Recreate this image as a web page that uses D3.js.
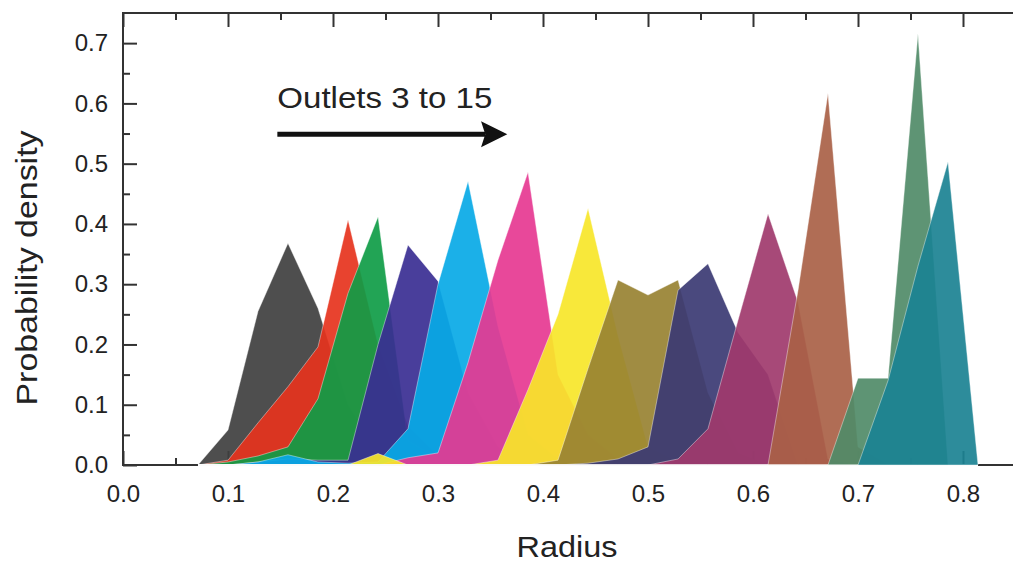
<!DOCTYPE html>
<html>
<head>
<meta charset="utf-8">
<script src="https://cdn.jsdelivr.net/npm/d3@7"></script>
<style>
  body { margin: 0; background: #fff; }
  svg { display: block; font-family: "Liberation Sans", Arial, sans-serif; }
</style>
</head>
<body>
<div id="chart"></div>
<script>
// bin centres (radius) shared by all outlets
const radius = [0.0714, 0.1, 0.1286, 0.1571, 0.1857, 0.2143, 0.2429, 0.2714, 0.3,
  0.3286, 0.3571, 0.3857, 0.4143, 0.4429, 0.4714, 0.5, 0.5286, 0.5571, 0.5857,
  0.6143, 0.6429, 0.6714, 0.7, 0.7286, 0.7571, 0.7857, 0.8143];

// probability density per outlet
const outlet3  = [0, 0.058, 0.255, 0.368, 0.26, 0.10, 0.02, 0.005, 0, 0, 0, 0, 0, 0, 0, 0, 0, 0, 0, 0, 0, 0, 0, 0, 0, 0, 0];
const outlet4  = [0, 0.008, 0.07, 0.13, 0.196, 0.407, 0.2, 0.065, 0.015, 0, 0, 0, 0, 0, 0, 0, 0, 0, 0, 0, 0, 0, 0, 0, 0, 0, 0];
const outlet5  = [0, 0.005, 0.015, 0.03, 0.11, 0.285, 0.412, 0.04, 0.01, 0, 0, 0, 0, 0, 0, 0, 0, 0, 0, 0, 0, 0, 0, 0, 0, 0, 0];
const outlet6  = [0, 0, 0.005, 0.01, 0.008, 0.008, 0.2, 0.365, 0.305, 0.12, 0.03, 0.005, 0, 0, 0, 0, 0, 0, 0, 0, 0, 0, 0, 0, 0, 0, 0];
const outlet7  = [0, 0, 0.005, 0.017, 0.005, 0.003, 0.005, 0.06, 0.3, 0.471, 0.23, 0.05, 0.01, 0, 0, 0, 0, 0, 0, 0, 0, 0, 0, 0, 0, 0, 0];
const outlet8  = [0, 0, 0, 0, 0, 0, 0, 0.012, 0.02, 0.17, 0.34, 0.486, 0.15, 0.05, 0.01, 0, 0, 0, 0, 0, 0, 0, 0, 0, 0, 0, 0];
const outlet9  = [0, 0, 0, 0, 0, 0, 0.019, 0, 0, 0, 0.008, 0.125, 0.25, 0.426, 0.215, 0.03, 0.005, 0, 0, 0, 0, 0, 0, 0, 0, 0, 0];
const outlet10 = [0, 0, 0, 0, 0, 0, 0, 0, 0, 0, 0, 0, 0.008, 0.16, 0.307, 0.282, 0.307, 0.12, 0.02, 0, 0, 0, 0, 0, 0, 0, 0];
const outlet11 = [0, 0, 0, 0, 0, 0, 0, 0, 0, 0, 0, 0, 0, 0.003, 0.01, 0.03, 0.29, 0.334, 0.22, 0.15, 0, 0, 0, 0, 0, 0, 0];
const outlet12 = [0, 0, 0, 0, 0, 0, 0, 0, 0, 0, 0, 0, 0, 0, 0, 0, 0.01, 0.06, 0.24, 0.417, 0.27, 0.01, 0, 0, 0, 0, 0];
const outlet13 = [0, 0, 0, 0, 0, 0, 0, 0, 0, 0, 0, 0, 0, 0, 0, 0, 0, 0, 0, 0, 0.29, 0.617, 0.03, 0, 0, 0, 0];
const outlet14 = [0, 0, 0, 0, 0, 0, 0, 0, 0, 0, 0, 0, 0, 0, 0, 0, 0, 0, 0, 0, 0, 0, 0.144, 0.144, 0.716, 0, 0];
const outlet15 = [0, 0, 0, 0, 0, 0, 0, 0, 0, 0, 0, 0, 0, 0, 0, 0, 0, 0, 0, 0, 0, 0, 0, 0.14, 0.33, 0.503, 0];

const outlets = [outlet3, outlet4, outlet5, outlet6, outlet7, outlet8, outlet9,
  outlet10, outlet11, outlet12, outlet13, outlet14, outlet15];

const outletColors = ["#3f3f3f", "#e6331d", "#0f9c46", "#3a2e93", "#08a9e6", "#e63891",
  "#f7e629", "#988232", "#3b3a73", "#a03a6c", "#a96146", "#508b68", "#1b8293"];

const xTicks = [0, 0.1, 0.2, 0.3, 0.4, 0.5, 0.6, 0.7, 0.8];
const xMinor = [0.05, 0.15, 0.25, 0.35, 0.45, 0.55, 0.65, 0.75];
const yTicks = [0, 0.1, 0.2, 0.3, 0.4, 0.5, 0.6, 0.7];
const yMinor = [0.05, 0.15, 0.25, 0.35, 0.45, 0.55, 0.65];

const width = 1013;
const height = 562;

const svg = d3.select("#chart")
  .append("svg")
  .attr("width", width)
  .attr("height", height);

// SCALES =======================================
const xScale = d3.scaleLinear().domain([0, 0.85]).range([123, 1015.5]);
const yScale = d3.scaleLinear().domain([0, 0.75]).range([465, 13]);

const axisColor = "#333";

// AXES (ticks point inward) ====================
svg.append("g")
  .attr("transform", `translate(0, ${yScale(0)})`)
  .call(d3.axisBottom(xScale).tickValues(xTicks).tickSize(-14).tickPadding(20)
    .tickFormat(d3.format(".1f")));
svg.append("g")
  .attr("transform", `translate(0, ${yScale(0)})`)
  .call(d3.axisBottom(xScale).tickValues(xMinor).tickSize(-7).tickFormat(""));
svg.append("g")
  .attr("transform", `translate(0, ${yScale(0.75)})`)
  .call(d3.axisTop(xScale).tickValues(xTicks).tickSize(-14).tickFormat(""));
svg.append("g")
  .attr("transform", `translate(0, ${yScale(0.75)})`)
  .call(d3.axisTop(xScale).tickValues(xMinor).tickSize(-7).tickFormat(""));
svg.append("g")
  .attr("transform", `translate(${xScale(0)}, 0)`)
  .call(d3.axisLeft(yScale).tickValues(yTicks).tickSize(-14).tickPadding(15)
    .tickFormat(d3.format(".1f")));
svg.append("g")
  .attr("transform", `translate(${xScale(0)}, 0)`)
  .call(d3.axisLeft(yScale).tickValues(yMinor).tickSize(-7).tickFormat(""));

svg.selectAll(".domain").remove();
svg.selectAll(".tick line").attr("stroke", axisColor).attr("stroke-width", 2);
svg.selectAll(".tick text")
  .attr("fill", "#222")
  .style("font-size", "24px");

// frame: top, left, bottom (right side falls off the picture)
svg.append("path")
  .attr("d", `M${xScale(0.85)},${yScale(0.75)}H${xScale(0)}V${yScale(0)}H${xScale(0.85)}`)
  .attr("fill", "none")
  .attr("stroke", axisColor)
  .attr("stroke-width", 2);

// DRAW AREAS ===================================
const area = d3.area()
  .x((d, i) => xScale(radius[i]))
  .y0(yScale(0))
  .y1(d => yScale(d));

svg.append("g")
  .selectAll("path.outlet")
  .data(outlets)
  .join("path")
  .attr("class", "outlet")
  .attr("d", area)
  .attr("fill", (d, i) => outletColors[i])
  .attr("fill-opacity", 0.92)
  .attr("stroke", "#fff")
  .attr("stroke-opacity", 0.4)
  .attr("stroke-width", 1)
  .attr("stroke-linejoin", "round");

// ANNOTATION ===================================
svg.append("text")
  .attr("x", xScale(0.147))
  .attr("y", yScale(0.592))
  .attr("textLength", 215)
  .attr("lengthAdjust", "spacingAndGlyphs")
  .style("font-size", "30px")
  .attr("fill", "#222")
  .text("Outlets 3 to 15");

svg.append("line")
  .attr("x1", xScale(0.147))
  .attr("x2", xScale(0.345))
  .attr("y1", yScale(0.549))
  .attr("y2", yScale(0.549))
  .attr("stroke", "#111")
  .attr("stroke-width", 5);

svg.append("path")
  .attr("d", `M${xScale(0.366)},${yScale(0.549)}L${xScale(0.341)},${yScale(0.549) - 13}L${xScale(0.345)},${yScale(0.549)}L${xScale(0.341)},${yScale(0.549) + 13}Z`)
  .attr("fill", "#111");

// AXIS TITLES ==================================
svg.append("text")
  .attr("x", 567)
  .attr("y", 557)
  .attr("text-anchor", "middle")
  .attr("textLength", 101)
  .attr("lengthAdjust", "spacingAndGlyphs")
  .style("font-size", "30px")
  .attr("fill", "#222")
  .text("Radius");

svg.append("text")
  .attr("transform", `translate(37, 268) rotate(-90)`)
  .attr("text-anchor", "middle")
  .attr("textLength", 275)
  .attr("lengthAdjust", "spacingAndGlyphs")
  .style("font-size", "30px")
  .attr("fill", "#222")
  .text("Probability density");
</script>
</body>
</html>
